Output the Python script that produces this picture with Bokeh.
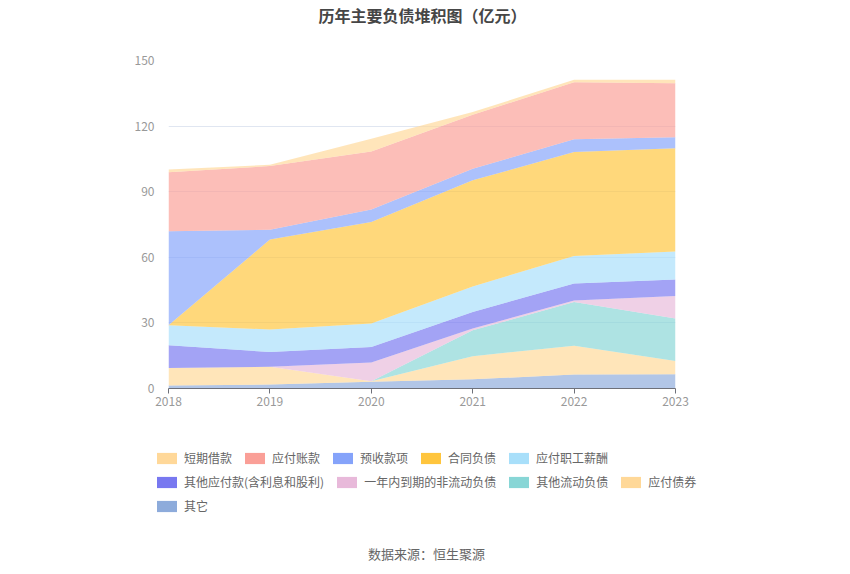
from bokeh.plotting import figure
from bokeh.layouts import column
from bokeh.models import Range1d, FixedTicker, Legend, LegendItem, Label, ColumnDataSource
from bokeh.embed import file_html
from bokeh.resources import INLINE

years = [2018, 2019, 2020, 2021, 2022, 2023]
year_labels = ["2018", "2019", "2020", "2021", "2022", "2023"]

# series (bottom-to-top stacking order is the reverse of the legend order)
duanqi_jiekuan = [1.3, 0.6, 5.8, 1.2, 1.1, 1.6]          # 短期借款
yingfu_zhangkuan = [27.0, 29.1, 26.5, 24.7, 26.1, 24.7]  # 应付账款
yushou_kuanxiang = [43.0, 4.5, 5.8, 5.3, 5.9, 5.0]       # 预收款项
hetong_fuzhai = [0.0, 41.1, 46.4, 48.5, 47.5, 47.2]      # 合同负债
zhigong_xinchou = [9.1, 10.3, 10.7, 11.7, 12.6, 12.8]    # 应付职工薪酬
qita_yingfu = [10.4, 6.8, 7.1, 7.6, 7.7, 7.6]            # 其他应付款(含利息和股利)
yinian_daoqi = [0.0, 0.0, 8.6, 0.8, 0.7, 10.3]           # 一年内到期的非流动负债
qita_liudong = [0.0, 0.0, 0.0, 11.8, 20.1, 19.4]         # 其他流动负债
yingfu_zhaiquan = [8.0, 8.1, 0.2, 10.6, 13.1, 6.1]       # 应付债券
qita = [1.4, 1.8, 3.1, 4.2, 6.4, 6.5]                    # 其它

names = ["短期借款", "应付账款", "预收款项", "合同负债", "应付职工薪酬",
         "其他应付款(含利息和股利)", "一年内到期的非流动负债", "其他流动负债", "应付债券", "其它"]
series = [duanqi_jiekuan, yingfu_zhangkuan, yushou_kuanxiang, hetong_fuzhai, zhigong_xinchou,
          qita_yingfu, yinian_daoqi, qita_liudong, yingfu_zhaiquan, qita]
colors = ["#FFD899", "#FA9F97", "#85A3FA", "#FFC53D", "#A8DFFA",
          "#7878F0", "#E8B9DA", "#88D6D6", "#FFD898", "#8DABDB"]

keys = [f"s{i}" for i in range(len(names))]
data = {"x": years}
for k, s in zip(keys, series):
    data[k] = s
source = ColumnDataSource(data)

FONT = "Noto Sans CJK SC"

# title strip
t = figure(width=850, height=28, output_backend="svg", toolbar_location=None,
           x_range=Range1d(0, 850), y_range=Range1d(0, 28),
           min_border_left=0, min_border_right=0, min_border_top=0, min_border_bottom=0)
t.outline_line_color = None
t.axis.visible = False
t.grid.visible = False
t.add_layout(Label(x=422, y=14, x_units="screen", y_units="screen", text="历年主要负债堆积图（亿元）",
                   text_align="center", text_baseline="middle", text_font=FONT,
                   text_font_size="16px", text_font_style="bold", text_color="#464646"))

p = figure(width=850, height=392, output_backend="svg", toolbar_location=None,
           x_range=Range1d(2018, 2023), y_range=Range1d(0, 150),
           min_border_left=168, min_border_right=175, min_border_top=32, min_border_bottom=32)
p.outline_line_color = None

stack_keys = list(reversed(keys))
stack_colors = list(reversed(colors))
p.varea_stack(stackers=stack_keys, x="x", source=source, color=stack_colors, fill_alpha=0.68)

# axes
p.xaxis.ticker = FixedTicker(ticks=years)
p.xaxis.major_label_overrides = {y: l for y, l in zip(years, year_labels)}
p.xaxis.axis_line_color = "#6E7079"
p.xaxis.major_tick_line_color = "#6E7079"
p.xaxis.major_tick_out = 5
p.xaxis.major_tick_in = 0
p.xaxis.minor_tick_line_color = None
p.xaxis.major_label_text_color = "#999999"
p.xaxis.major_label_text_font = FONT
p.xaxis.major_label_text_font_size = "12px"
p.xaxis.major_label_standoff = 3

p.yaxis.ticker = FixedTicker(ticks=[0, 30, 60, 90, 120, 150])
p.yaxis.axis_line_color = None
p.yaxis.major_tick_line_color = None
p.yaxis.minor_tick_line_color = None
p.yaxis.major_label_text_color = "#999999"
p.yaxis.major_label_text_font = FONT
p.yaxis.major_label_text_font_size = "12px"
p.yaxis.major_label_standoff = 8

p.xgrid.grid_line_color = None
p.ygrid.grid_line_color = "#E0E6F1"
p.ygrid.grid_line_width = 1

# legend + source panel
q = figure(width=850, height=154, output_backend="svg", toolbar_location=None,
           x_range=Range1d(0, 850), y_range=Range1d(0, 154),
           min_border_left=0, min_border_right=0, min_border_top=0, min_border_bottom=0)
q.outline_line_color = None
q.axis.visible = False
q.grid.visible = False

dummies = []
for c in colors:
    r = q.varea(x=[0], y1=[0], y2=[0], fill_color=c, fill_alpha=1.0)
    dummies.append(r)

rows = [(0, 5), (5, 9), (9, 10)]
offsets = [108, 84, 60]
for (a, b), vy in zip(rows, offsets):
    items = [LegendItem(label=names[i], renderers=[dummies[i]]) for i in range(a, b)]
    lg = Legend(items=items, orientation="horizontal", location=(154, vy),
                glyph_width=25, glyph_height=14, label_standoff=5, spacing=10,
                padding=0, margin=0, border_line_color=None, background_fill_alpha=0,
                label_text_font=FONT, label_text_font_size="12px", label_text_color="#666666",
                label_height=14, label_width=10)
    q.add_layout(lg, "center")

src = Label(x=426, y=21, x_units="screen", y_units="screen", text="数据来源：恒生聚源",
            text_align="center", text_baseline="middle", text_font=FONT, text_font_size="13px",
            text_color="#666666")
q.add_layout(src)

layout = column(column(t, spacing=0), p, column(q, spacing=0), spacing=0)
open("out.html", "w").write(file_html(layout, INLINE))
